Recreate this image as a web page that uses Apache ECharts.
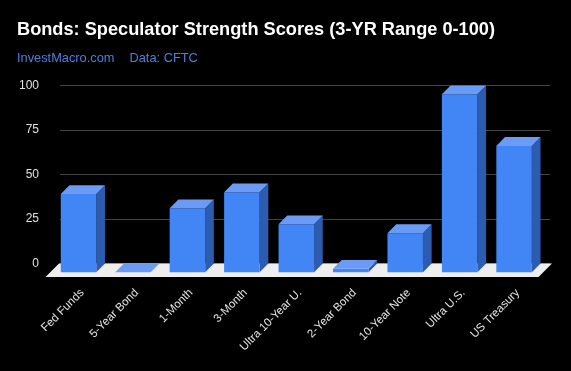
<!DOCTYPE html>
<html>
<head>
<meta charset="utf-8">
<script src="https://cdn.jsdelivr.net/npm/echarts@6/dist/echarts.min.js"></script>
<style>html,body{margin:0;padding:0;background:#000;}#c{width:571px;height:371px;}</style>
</head>
<body>
<div id="c"></div>
<script>
const categories = ['Fed Funds','5-Year Bond','1-Month','3-Month','Ultra 10-Year U.','2-Year Bond','10-Year Note','Ultra U.S.','US Treasury'];
const values = [44, 0, 36, 45, 27, 2, 22, 100, 71];
const yTicks = [0, 25, 50, 75, 100];

const FONT = 'Liberation Sans, Arial, sans-serif';
const DX = 8.7, DY = 8.8;
const FRONT = '#4285f4', TOP = '#6a9cf6', SIDE = '#2c5bb0';

const chart = echarts.init(document.getElementById('c'), null, {renderer: 'canvas'});

function renderBar(params, api) {
  const idx = api.value(0);
  const val = api.value(1);
  const top = api.coord([idx, val]);
  const base = api.coord([idx, 0]);
  const w = api.size([1, 0])[0] * 0.652;
  const bl = top[0] - w / 2, br = top[0] + w / 2;
  const ty = top[1], by = base[1];
  const children = [];
  if (by - ty > 0.01) {
    children.push({type: 'polygon', shape: {points: [[br, ty], [br, by], [br - DX, by + DY], [br - DX, ty + DY]]}, style: {fill: SIDE}});
    children.push({type: 'rect', shape: {x: bl - DX, y: ty + DY, width: w, height: by - ty}, style: {fill: FRONT}});
  }
  children.push({type: 'polygon', shape: {points: [[bl, ty], [br, ty], [br - DX, ty + DY], [bl - DX, ty + DY]]}, style: {fill: TOP}});
  return {type: 'group', children: children};
}

function renderFloor(params, api) {
  const cs = params.coordSys;
  const by = api.coord([0, 0])[1];
  const l = cs.x - 1, r = cs.x + cs.width + 2;
  const fd = 13.5;
  return {type: 'polygon', shape: {points: [[l, by], [r, by], [r - fd, by + fd], [l - fd, by + fd]]}, style: {fill: '#eeeeee'}};
}

chart.setOption({
  backgroundColor: '#000',
  animation: false,
  title: [
    {text: 'Bonds: Speculator Strength Scores (3-YR Range 0-100)', left: 17, top: 21, padding: 0,
     textStyle: {color: '#ffffff', fontSize: 18.2, fontWeight: 'bold', fontFamily: FONT}},
    {text: 'InvestMacro.com', left: 17, top: 51.5, padding: 0,
     textStyle: {color: '#4f7fdc', fontSize: 12.8, fontWeight: 'normal', fontFamily: FONT}},
    {text: 'Data: CFTC', left: 129.5, top: 51.5, padding: 0,
     textStyle: {color: '#4f7fdc', fontSize: 12.8, fontWeight: 'normal', fontFamily: FONT}}
  ],
  grid: [
    {left: 60, width: 490, top: 85.5, height: 178, containLabel: false},
    {left: 55, width: 490, top: 85.5, height: 191.5, containLabel: false}
  ],
  xAxis: [
    {type: 'category', gridIndex: 0, data: categories, axisLine: {show: false}, axisTick: {show: false}, axisLabel: {show: false}, splitLine: {show: false}},
    {type: 'category', gridIndex: 1, data: categories, axisLine: {show: false}, axisTick: {show: false}, splitLine: {show: false},
     axisLabel: {rotate: 45, margin: 14, color: '#e6e6e6', fontSize: 11.5, fontFamily: FONT, interval: 0}}
  ],
  yAxis: [
    {type: 'value', gridIndex: 0, min: yTicks[0], max: yTicks[yTicks.length - 1], interval: 25,
     axisLine: {show: false}, axisTick: {show: false},
     splitLine: {lineStyle: {color: '#444444', width: 1}},
     axisLabel: {color: '#e0e0e0', fontSize: 12, fontFamily: FONT, margin: 21}},
    {type: 'value', gridIndex: 1, show: false, min: 0, max: 100}
  ],
  series: [
    {type: 'custom', xAxisIndex: 0, yAxisIndex: 0, renderItem: renderFloor, data: [[0, 0]], z: 1, silent: true},
    {type: 'custom', xAxisIndex: 0, yAxisIndex: 0, renderItem: renderBar,
     data: values.map((v, i) => [i, v]), z: 2, encode: {x: 0, y: 1}}
  ]
});
</script>
</body>
</html>
